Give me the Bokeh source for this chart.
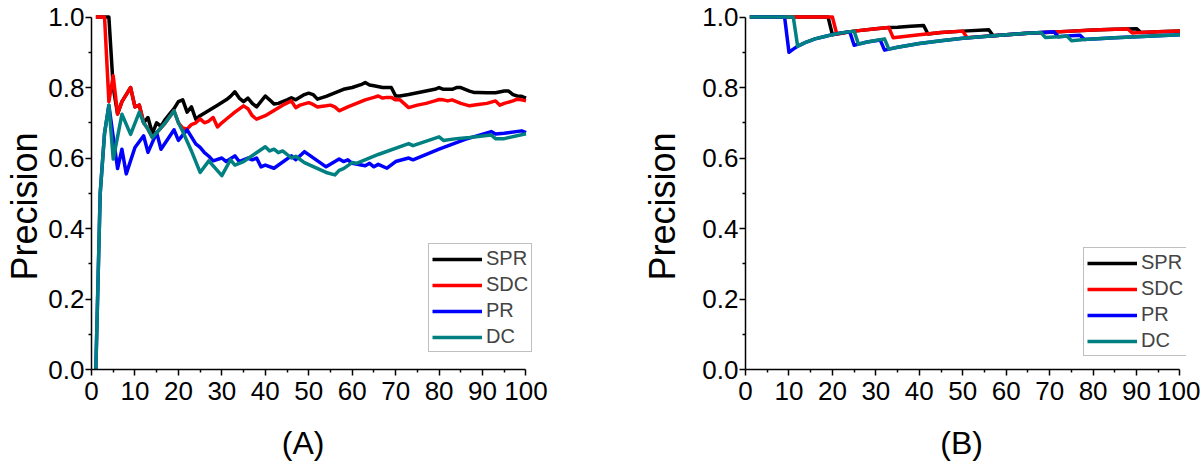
from bokeh.plotting import figure
from bokeh.layouts import row
from bokeh.models import FixedTicker, PrintfTickFormatter, Range1d
from bokeh.embed import file_html
from bokeh.resources import INLINE

# ---------------- Panel A data ----------------
a_spr_x = [1, 4, 5, 6, 7, 8, 9, 10, 11, 12, 13, 14, 15, 16, 17, 18, 19, 20, 21, 22, 23, 24, 25, 27, 29, 31, 32, 33, 34, 35, 36, 37, 38, 40, 41, 42, 43, 45, 46, 47, 49, 50, 51, 52, 54, 56, 58, 60, 62, 63, 64, 65, 67, 69, 70, 71, 73, 75, 77, 79, 80, 81, 83, 84, 85, 86, 87, 88, 89, 91, 93, 95, 96, 97, 98, 99, 100]
a_spr_y = [1.0, 1.0, 0.80, 0.725, 0.76, 0.78, 0.80, 0.745, 0.75, 0.70, 0.715, 0.67, 0.70, 0.69, 0.71, 0.725, 0.74, 0.76, 0.765, 0.73, 0.745, 0.71, 0.72, 0.735, 0.75, 0.765, 0.775, 0.788, 0.77, 0.76, 0.77, 0.755, 0.745, 0.776, 0.765, 0.753, 0.755, 0.765, 0.771, 0.765, 0.78, 0.784, 0.78, 0.767, 0.775, 0.785, 0.795, 0.80, 0.808, 0.814, 0.807, 0.805, 0.80, 0.80, 0.776, 0.776, 0.78, 0.785, 0.79, 0.795, 0.80, 0.795, 0.795, 0.80, 0.80, 0.795, 0.79, 0.786, 0.786, 0.785, 0.785, 0.79, 0.79, 0.78, 0.776, 0.775, 0.77]

a_sdc_x = [1, 3, 4, 5, 6, 7, 8, 9, 10, 11, 12, 13, 14, 17, 19, 20, 21, 22, 23, 24, 25, 26, 27, 28, 29, 30, 31, 33, 35, 36, 37, 38, 40, 42, 44, 46, 47, 48, 50, 51, 52, 54, 55, 56, 57, 59, 61, 63, 65, 66, 67, 68, 69, 70, 71, 73, 75, 77, 79, 80, 81, 82, 83, 85, 87, 89, 91, 93, 94, 95, 97, 98, 99, 100]
a_sdc_y = [1.0, 1.0, 0.76, 0.833, 0.725, 0.76, 0.78, 0.80, 0.745, 0.75, 0.70, 0.682, 0.658, 0.70, 0.734, 0.70, 0.685, 0.682, 0.695, 0.70, 0.711, 0.70, 0.705, 0.715, 0.688, 0.70, 0.71, 0.73, 0.748, 0.74, 0.72, 0.71, 0.72, 0.735, 0.75, 0.762, 0.743, 0.75, 0.757, 0.752, 0.745, 0.748, 0.75, 0.745, 0.734, 0.745, 0.755, 0.765, 0.772, 0.776, 0.77, 0.772, 0.772, 0.765, 0.765, 0.743, 0.75, 0.755, 0.762, 0.766, 0.765, 0.762, 0.765, 0.755, 0.748, 0.752, 0.755, 0.762, 0.75, 0.755, 0.762, 0.767, 0.765, 0.762]

a_pr_x = [1, 2, 3, 4, 5, 6, 7, 8, 10, 12, 13, 15, 16, 19, 20, 22, 24, 25, 26, 27, 28, 30, 31, 33, 34, 36, 37, 38, 39, 40, 42, 46, 47, 49, 54, 57, 58, 59, 60, 63, 64, 65, 66, 68, 70, 73, 74, 80, 86, 92, 93, 95, 99, 100]
a_pr_y = [0.0, 0.5, 0.67, 0.75, 0.66, 0.57, 0.625, 0.555, 0.63, 0.663, 0.616, 0.672, 0.625, 0.68, 0.65, 0.68, 0.64, 0.63, 0.615, 0.605, 0.592, 0.60, 0.59, 0.606, 0.59, 0.60, 0.595, 0.60, 0.575, 0.58, 0.571, 0.606, 0.595, 0.618, 0.575, 0.597, 0.59, 0.595, 0.585, 0.578, 0.585, 0.575, 0.582, 0.571, 0.59, 0.60, 0.595, 0.625, 0.653, 0.675, 0.668, 0.67, 0.677, 0.672]

a_dc_x = [1, 2, 3, 4, 5, 7, 9, 11, 12, 13, 14, 17, 19, 20, 21, 23, 25, 27, 30, 32, 33, 35, 40, 41, 42, 43, 44, 46, 47, 49, 54, 56, 57, 58, 60, 61, 66, 73, 74, 80, 81, 84, 87, 92, 93, 95, 100]
a_dc_y = [0.0, 0.5, 0.67, 0.75, 0.597, 0.724, 0.667, 0.73, 0.70, 0.682, 0.658, 0.70, 0.734, 0.70, 0.675, 0.62, 0.559, 0.592, 0.55, 0.595, 0.58, 0.59, 0.632, 0.62, 0.625, 0.615, 0.62, 0.60, 0.605, 0.587, 0.559, 0.552, 0.565, 0.57, 0.587, 0.585, 0.61, 0.641, 0.635, 0.66, 0.65, 0.655, 0.658, 0.665, 0.655, 0.655, 0.669]

# ---------------- Panel B data ----------------
b_spr_x = [1, 19, 20, 21, 25, 30, 33, 35, 38, 41, 42, 45, 50, 56, 57, 60, 65, 70, 75, 80, 85, 90, 91, 95, 100]
b_spr_y = [1.0, 1.0, 0.95, 0.952, 0.96, 0.967, 0.970, 0.971, 0.974, 0.976, 0.952, 0.956, 0.96, 0.964, 0.947, 0.95, 0.954, 0.957, 0.96, 0.963, 0.965, 0.967, 0.956, 0.958, 0.96]

b_sdc_x = [1, 20, 21, 25, 30, 33, 34, 36, 40, 45, 50, 51, 53, 56, 60, 65, 70, 75, 80, 85, 88, 89, 92, 95, 100]
b_sdc_y = [1.0, 1.0, 0.952, 0.96, 0.967, 0.970, 0.941, 0.944, 0.95, 0.956, 0.96, 0.941, 0.943, 0.946, 0.95, 0.954, 0.957, 0.96, 0.963, 0.965, 0.966, 0.955, 0.957, 0.958, 0.96]

b_pr_x = [1, 9, 10, 11, 12, 13, 14, 16, 18, 20, 22, 24, 25, 26, 28, 31, 32, 33, 35, 40, 45, 50, 55, 60, 65, 68, 71, 72, 75, 77, 78, 80, 85, 90, 95, 100]
b_pr_y = [1.0, 1.0, 0.90, 0.909, 0.917, 0.923, 0.929, 0.938, 0.944, 0.95, 0.955, 0.958, 0.92, 0.923, 0.929, 0.935, 0.906, 0.909, 0.914, 0.925, 0.933, 0.94, 0.945, 0.95, 0.954, 0.956, 0.958, 0.944, 0.947, 0.948, 0.936, 0.938, 0.941, 0.944, 0.947, 0.95]

b_dc_x = [1, 11, 12, 13, 14, 16, 18, 20, 22, 25, 26, 28, 32, 33, 35, 40, 45, 50, 55, 60, 65, 68, 69, 72, 74, 75, 78, 80, 85, 90, 95, 100]
b_dc_y = [1.0, 1.0, 0.917, 0.923, 0.929, 0.938, 0.944, 0.95, 0.955, 0.96, 0.923, 0.929, 0.938, 0.909, 0.914, 0.925, 0.933, 0.94, 0.945, 0.95, 0.954, 0.956, 0.942, 0.944, 0.946, 0.933, 0.936, 0.938, 0.941, 0.944, 0.947, 0.95]

names = ["SPR", "SDC", "PR", "DC"]
colors = ["#000000", "#FF0000", "#0000FF", "#008080"]

x_ticks = [0, 10, 20, 30, 40, 50, 60, 70, 80, 90, 100]
y_ticks = [0.0, 0.2, 0.4, 0.6, 0.8, 1.0]
y_title = "Precision"

FONT = "Liberation Sans"
NB = "\u00a0"


def make_panel(series, title, title_pad, left, right, legend_loc, ylab_standoff):
    p = figure(width=left + 441 + right, height=461, frame_width=441, frame_height=356,
               x_range=Range1d(0, 101.5), y_range=Range1d(0, 1.01),
               output_backend="svg", toolbar_location=None,
               min_border_left=left, min_border_right=right,
               min_border_top=13, min_border_bottom=92)
    p.grid.visible = False
    p.outline_line_color = None
    p.background_fill_color = "white"
    for (xs, ys), name, col in zip(series, names, colors):
        p.line(xs, ys, line_color=col, line_width=3.5, line_join="round",
               legend_label=name)
    for ax in (p.xaxis[0], p.yaxis[0]):
        ax.axis_line_width = 1.5
        ax.axis_line_color = "black"
        ax.major_tick_line_width = 1.5
        ax.minor_tick_line_width = 1.5
        ax.major_tick_out = 6
        ax.major_tick_in = 0
        ax.minor_tick_out = 3
        ax.minor_tick_in = 0
        ax.major_label_text_font = FONT
        ax.major_label_text_font_size = "26px"
        ax.major_label_text_color = "black"
        ax.axis_label_text_font = FONT
        ax.axis_label_text_font_style = "normal"
        ax.axis_label_text_color = "black"
    p.xaxis.ticker = FixedTicker(ticks=x_ticks, minor_ticks=[5 + 10 * i for i in range(10)])
    p.yaxis.ticker = FixedTicker(ticks=y_ticks, minor_ticks=[0.1, 0.3, 0.5, 0.7, 0.9])
    p.yaxis.formatter = PrintfTickFormatter(format="%.1f")
    p.xaxis.bounds = (0, 100)
    p.yaxis.bounds = (0, 1)
    p.xaxis.major_label_standoff = 6
    p.yaxis.major_label_standoff = 1

    p.yaxis.axis_label = y_title + NB * 3
    p.yaxis.axis_label_text_font_size = "36px"
    p.yaxis.axis_label_standoff = ylab_standoff
    p.xaxis.axis_label = title + NB * title_pad
    p.xaxis.axis_label_text_font_size = "32px"
    p.xaxis.axis_label_standoff = 22

    lg = p.legend[0]
    lg.location = legend_loc
    lg.border_line_color = "#808080"
    lg.border_line_width = 1
    lg.background_fill_alpha = 1
    lg.label_text_font = FONT
    lg.label_text_font_size = "20px"
    lg.glyph_width = 50
    lg.glyph_height = 20
    lg.label_height = 20
    lg.label_standoff = 4
    lg.spacing = 3
    lg.padding = 3
    lg.margin = 0
    return p


pa = make_panel([(a_spr_x, a_spr_y), (a_sdc_x, a_sdc_y), (a_pr_x, a_pr_y), (a_dc_x, a_dc_y)],
                "(A)", 2, 91, 66, (337, 17), 0)
pb = make_panel([(b_spr_x, b_spr_y), (b_sdc_x, b_sdc_y), (b_pr_x, b_pr_y), (b_dc_x, b_dc_y)],
                "(B)", 1, 147, 14, (338, 13), 16)

layout = row(pa, pb)
open("out.html", "w").write(file_html(layout, INLINE))
